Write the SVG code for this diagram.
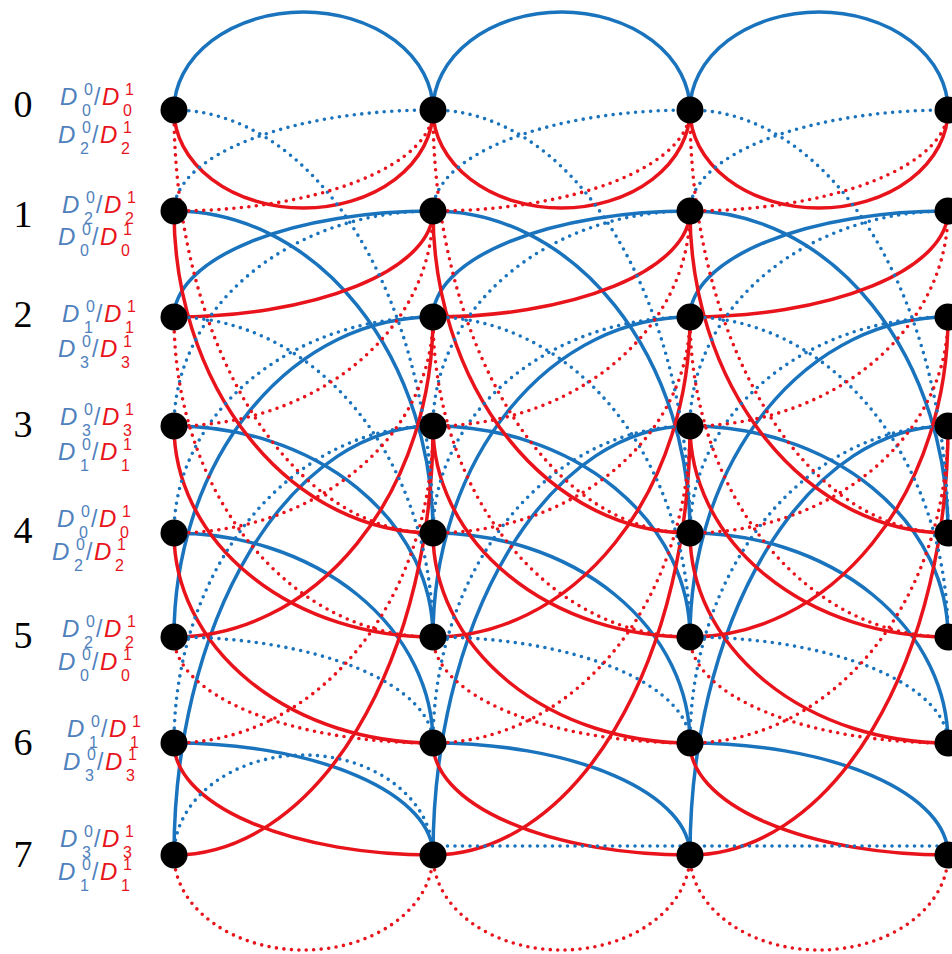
<svg xmlns="http://www.w3.org/2000/svg" width="952" height="954" viewBox="0 0 952 954">
<style>
.sb{fill:none;stroke:#1a73bd;stroke-width:3.5}
.sr{fill:none;stroke:#e8131b;stroke-width:3.5}
.db{fill:none;stroke:#1a73bd;stroke-width:3.6;stroke-dasharray:0 7.5;stroke-linecap:round}
.dr{fill:none;stroke:#e8131b;stroke-width:3.6;stroke-dasharray:0 7.5;stroke-linecap:round}
.nd{fill:#000}
.num{font-family:"Liberation Serif","Times New Roman",serif;font-size:38px;fill:#000;text-anchor:middle}
.lab{font-family:"Liberation Sans",Arial,sans-serif}
.D{font-size:24px;font-style:italic}
.s{font-size:16px}
.sl{font-size:23px}
.b{fill:#4f81bd}
.r{fill:#e8141c}
</style>
<rect width="952" height="954" fill="#fff"/>
<g id="connectors">
<g id="stage-0">
<path class="sb" d="M174 110A129.5 98 0 0 1 433 110M174 211A259 322 0 0 1 433 533M174 317A259 106 0 0 1 433 211M174 426A259 211 0 0 1 433 637M174 533A259 210 0 0 1 433 743M174 637A259 320 0 0 1 433 317M174 743A259 112 0 0 1 433 855M174 855A259 429 0 0 1 433 426"/>
<path class="sr" d="M174 110A129.5 98 0 0 0 433 110M174 211A259 322 0 0 0 433 533M174 317A259 106 0 0 0 433 211M174 426A259 211 0 0 0 433 637M174 533A259 210 0 0 0 433 743M174 637A259 320 0 0 0 433 317M174 743A259 112 0 0 0 433 855M174 855A259 429 0 0 0 433 426"/>
<path class="db" d="M174 110A259 423 0 0 1 433 533M174 211A259 101 0 0 1 433 110M174 317A259 320 0 0 1 433 637M174 426A259 215 0 0 1 433 211M174 533A259 216 0 0 1 433 317M174 637A259 106 0 0 1 433 743M174 743A259 317 0 0 1 433 426M174 855A129.5 100 0 0 1 433 855"/>
<path class="dr" d="M174 110A259 423 0 0 0 433 533M174 211A259 101 0 0 0 433 110M174 317A259 320 0 0 0 433 637M174 426A259 215 0 0 0 433 211M174 533A259 216 0 0 0 433 317M174 637A259 106 0 0 0 433 743M174 743A259 317 0 0 0 433 426M174 855A129.5 95 0 0 0 433 855"/>
</g>
<g id="stage-1">
<path class="sb" d="M433 110A128.5 98 0 0 1 690 110M433 211A257 322 0 0 1 690 533M433 317A257 106 0 0 1 690 211M433 426A257 211 0 0 1 690 637M433 533A257 210 0 0 1 690 743M433 637A257 320 0 0 1 690 317M433 743A257 112 0 0 1 690 855M433 855A257 429 0 0 1 690 426"/>
<path class="sr" d="M433 110A128.5 98 0 0 0 690 110M433 211A257 322 0 0 0 690 533M433 317A257 106 0 0 0 690 211M433 426A257 211 0 0 0 690 637M433 533A257 210 0 0 0 690 743M433 637A257 320 0 0 0 690 317M433 743A257 112 0 0 0 690 855M433 855A257 429 0 0 0 690 426"/>
<path class="db" d="M433 110A257 423 0 0 1 690 533M433 211A257 101 0 0 1 690 110M433 317A257 320 0 0 1 690 637M433 426A257 215 0 0 1 690 211M433 533A257 216 0 0 1 690 317M433 637A257 106 0 0 1 690 743M433 743A257 317 0 0 1 690 426M440 846H684"/>
<path class="dr" d="M433 110A257 423 0 0 0 690 533M433 211A257 101 0 0 0 690 110M433 317A257 320 0 0 0 690 637M433 426A257 215 0 0 0 690 211M433 533A257 216 0 0 0 690 317M433 637A257 106 0 0 0 690 743M433 743A257 317 0 0 0 690 426M433 855A128.5 95 0 0 0 690 855"/>
</g>
<g id="stage-2">
<path class="sb" d="M690 110A129 98 0 0 1 948 110M690 211A258 322 0 0 1 948 533M690 317A258 106 0 0 1 948 211M690 426A258 211 0 0 1 948 637M690 533A258 210 0 0 1 948 743M690 637A258 320 0 0 1 948 317M690 743A258 112 0 0 1 948 855M690 855A258 429 0 0 1 948 426"/>
<path class="sr" d="M690 110A129 98 0 0 0 948 110M690 211A258 322 0 0 0 948 533M690 317A258 106 0 0 0 948 211M690 426A258 211 0 0 0 948 637M690 533A258 210 0 0 0 948 743M690 637A258 320 0 0 0 948 317M690 743A258 112 0 0 0 948 855M690 855A258 429 0 0 0 948 426"/>
<path class="db" d="M690 110A258 423 0 0 1 948 533M690 211A258 101 0 0 1 948 110M690 317A258 320 0 0 1 948 637M690 426A258 215 0 0 1 948 211M690 533A258 216 0 0 1 948 317M690 637A258 106 0 0 1 948 743M690 743A258 317 0 0 1 948 426M697 846H942"/>
<path class="dr" d="M690 110A258 423 0 0 0 948 533M690 211A258 101 0 0 0 948 110M690 317A258 320 0 0 0 948 637M690 426A258 215 0 0 0 948 211M690 533A258 216 0 0 0 948 317M690 637A258 106 0 0 0 948 743M690 743A258 317 0 0 0 948 426M690 855A129 95 0 0 0 948 855"/>
</g>
</g>
<g id="nodes">
<g id="n-c0-r0"><circle class="nd" cx="174" cy="110" r="13.5"/></g>
<g id="n-c0-r1"><circle class="nd" cx="174" cy="211" r="13.5"/></g>
<g id="n-c0-r2"><circle class="nd" cx="174" cy="317" r="13.5"/></g>
<g id="n-c0-r3"><circle class="nd" cx="174" cy="426" r="13.5"/></g>
<g id="n-c0-r4"><circle class="nd" cx="174" cy="533" r="13.5"/></g>
<g id="n-c0-r5"><circle class="nd" cx="174" cy="637" r="13.5"/></g>
<g id="n-c0-r6"><circle class="nd" cx="174" cy="743" r="13.5"/></g>
<g id="n-c0-r7"><circle class="nd" cx="174" cy="855" r="13.5"/></g>
<g id="n-c1-r0"><circle class="nd" cx="433" cy="110" r="13.5"/></g>
<g id="n-c1-r1"><circle class="nd" cx="433" cy="211" r="13.5"/></g>
<g id="n-c1-r2"><circle class="nd" cx="433" cy="317" r="13.5"/></g>
<g id="n-c1-r3"><circle class="nd" cx="433" cy="426" r="13.5"/></g>
<g id="n-c1-r4"><circle class="nd" cx="433" cy="533" r="13.5"/></g>
<g id="n-c1-r5"><circle class="nd" cx="433" cy="637" r="13.5"/></g>
<g id="n-c1-r6"><circle class="nd" cx="433" cy="743" r="13.5"/></g>
<g id="n-c1-r7"><circle class="nd" cx="433" cy="855" r="13.5"/></g>
<g id="n-c2-r0"><circle class="nd" cx="690" cy="110" r="13.5"/></g>
<g id="n-c2-r1"><circle class="nd" cx="690" cy="211" r="13.5"/></g>
<g id="n-c2-r2"><circle class="nd" cx="690" cy="317" r="13.5"/></g>
<g id="n-c2-r3"><circle class="nd" cx="690" cy="426" r="13.5"/></g>
<g id="n-c2-r4"><circle class="nd" cx="690" cy="533" r="13.5"/></g>
<g id="n-c2-r5"><circle class="nd" cx="690" cy="637" r="13.5"/></g>
<g id="n-c2-r6"><circle class="nd" cx="690" cy="743" r="13.5"/></g>
<g id="n-c2-r7"><circle class="nd" cx="690" cy="855" r="13.5"/></g>
<g id="n-c3-r0"><circle class="nd" cx="948" cy="110" r="13.5"/></g>
<g id="n-c3-r1"><circle class="nd" cx="948" cy="211" r="13.5"/></g>
<g id="n-c3-r2"><circle class="nd" cx="948" cy="317" r="13.5"/></g>
<g id="n-c3-r3"><circle class="nd" cx="948" cy="426" r="13.5"/></g>
<g id="n-c3-r4"><circle class="nd" cx="948" cy="533" r="13.5"/></g>
<g id="n-c3-r5"><circle class="nd" cx="948" cy="637" r="13.5"/></g>
<g id="n-c3-r6"><circle class="nd" cx="948" cy="743" r="13.5"/></g>
<g id="n-c3-r7"><circle class="nd" cx="948" cy="855" r="13.5"/></g>
</g>
<g id="labels">
<g id="label-r0"><text class="num" x="23" y="117">0</text>
<text class="lab"><tspan class="D b" x="60" y="105">D</tspan><tspan class="s b" x="84" y="95">0</tspan><tspan class="s b" x="82" y="116">0</tspan><tspan class="sl b" x="94" y="105">/</tspan><tspan class="D r" x="102" y="105">D</tspan><tspan class="s r" x="125" y="95">1</tspan><tspan class="s r" x="123" y="116">0</tspan></text>
<text class="lab"><tspan class="D b" x="58" y="143">D</tspan><tspan class="s b" x="82" y="133">0</tspan><tspan class="s b" x="80" y="154">2</tspan><tspan class="sl b" x="92" y="143">/</tspan><tspan class="D r" x="100" y="143">D</tspan><tspan class="s r" x="123" y="133">1</tspan><tspan class="s r" x="121" y="154">2</tspan></text></g>
<g id="label-r1"><text class="num" x="23" y="227">1</text>
<text class="lab"><tspan class="D b" x="62" y="213">D</tspan><tspan class="s b" x="86" y="203">0</tspan><tspan class="s b" x="84" y="224">2</tspan><tspan class="sl b" x="96" y="213">/</tspan><tspan class="D r" x="104" y="213">D</tspan><tspan class="s r" x="127" y="203">1</tspan><tspan class="s r" x="125" y="224">2</tspan></text>
<text class="lab"><tspan class="D b" x="58" y="245">D</tspan><tspan class="s b" x="82" y="235">0</tspan><tspan class="s b" x="80" y="256">0</tspan><tspan class="sl b" x="92" y="245">/</tspan><tspan class="D r" x="100" y="245">D</tspan><tspan class="s r" x="123" y="235">1</tspan><tspan class="s r" x="121" y="256">0</tspan></text></g>
<g id="label-r2"><text class="num" x="23" y="327">2</text>
<text class="lab"><tspan class="D b" x="62" y="322">D</tspan><tspan class="s b" x="86" y="312">0</tspan><tspan class="s b" x="84" y="333">1</tspan><tspan class="sl b" x="96" y="322">/</tspan><tspan class="D r" x="104" y="322">D</tspan><tspan class="s r" x="127" y="312">1</tspan><tspan class="s r" x="125" y="333">1</tspan></text>
<text class="lab"><tspan class="D b" x="58" y="357">D</tspan><tspan class="s b" x="82" y="347">0</tspan><tspan class="s b" x="80" y="368">3</tspan><tspan class="sl b" x="92" y="357">/</tspan><tspan class="D r" x="100" y="357">D</tspan><tspan class="s r" x="123" y="347">1</tspan><tspan class="s r" x="121" y="368">3</tspan></text></g>
<g id="label-r3"><text class="num" x="23" y="437">3</text>
<text class="lab"><tspan class="D b" x="60" y="425">D</tspan><tspan class="s b" x="84" y="415">0</tspan><tspan class="s b" x="82" y="436">3</tspan><tspan class="sl b" x="94" y="425">/</tspan><tspan class="D r" x="102" y="425">D</tspan><tspan class="s r" x="125" y="415">1</tspan><tspan class="s r" x="123" y="436">3</tspan></text>
<text class="lab"><tspan class="D b" x="58" y="460">D</tspan><tspan class="s b" x="82" y="450">0</tspan><tspan class="s b" x="80" y="471">1</tspan><tspan class="sl b" x="92" y="460">/</tspan><tspan class="D r" x="100" y="460">D</tspan><tspan class="s r" x="123" y="450">1</tspan><tspan class="s r" x="121" y="471">1</tspan></text></g>
<g id="label-r4"><text class="num" x="23" y="543">4</text>
<text class="lab"><tspan class="D b" x="57" y="527">D</tspan><tspan class="s b" x="81" y="517">0</tspan><tspan class="s b" x="79" y="538">0</tspan><tspan class="sl b" x="91" y="527">/</tspan><tspan class="D r" x="99" y="527">D</tspan><tspan class="s r" x="122" y="517">1</tspan><tspan class="s r" x="120" y="538">0</tspan></text>
<text class="lab"><tspan class="D b" x="52" y="560">D</tspan><tspan class="s b" x="76" y="550">0</tspan><tspan class="s b" x="74" y="571">2</tspan><tspan class="sl b" x="86" y="560">/</tspan><tspan class="D r" x="94" y="560">D</tspan><tspan class="s r" x="117" y="550">1</tspan><tspan class="s r" x="115" y="571">2</tspan></text></g>
<g id="label-r5"><text class="num" x="23" y="648">5</text>
<text class="lab"><tspan class="D b" x="62" y="637">D</tspan><tspan class="s b" x="86" y="627">0</tspan><tspan class="s b" x="84" y="648">2</tspan><tspan class="sl b" x="96" y="637">/</tspan><tspan class="D r" x="104" y="637">D</tspan><tspan class="s r" x="127" y="627">1</tspan><tspan class="s r" x="125" y="648">2</tspan></text>
<text class="lab"><tspan class="D b" x="58" y="670">D</tspan><tspan class="s b" x="82" y="660">0</tspan><tspan class="s b" x="80" y="681">0</tspan><tspan class="sl b" x="92" y="670">/</tspan><tspan class="D r" x="100" y="670">D</tspan><tspan class="s r" x="123" y="660">1</tspan><tspan class="s r" x="121" y="681">0</tspan></text></g>
<g id="label-r6"><text class="num" x="23" y="755">6</text>
<text class="lab"><tspan class="D b" x="67" y="737">D</tspan><tspan class="s b" x="91" y="727">0</tspan><tspan class="s b" x="89" y="748">1</tspan><tspan class="sl b" x="101" y="737">/</tspan><tspan class="D r" x="109" y="737">D</tspan><tspan class="s r" x="132" y="727">1</tspan><tspan class="s r" x="130" y="748">1</tspan></text>
<text class="lab"><tspan class="D b" x="63" y="770">D</tspan><tspan class="s b" x="87" y="760">0</tspan><tspan class="s b" x="85" y="781">3</tspan><tspan class="sl b" x="97" y="770">/</tspan><tspan class="D r" x="105" y="770">D</tspan><tspan class="s r" x="128" y="760">1</tspan><tspan class="s r" x="126" y="781">3</tspan></text></g>
<g id="label-r7"><text class="num" x="23" y="867">7</text>
<text class="lab"><tspan class="D b" x="60" y="847">D</tspan><tspan class="s b" x="84" y="837">0</tspan><tspan class="s b" x="82" y="858">3</tspan><tspan class="sl b" x="94" y="847">/</tspan><tspan class="D r" x="102" y="847">D</tspan><tspan class="s r" x="125" y="837">1</tspan><tspan class="s r" x="123" y="858">3</tspan></text>
<text class="lab"><tspan class="D b" x="58" y="880">D</tspan><tspan class="s b" x="82" y="870">0</tspan><tspan class="s b" x="80" y="891">1</tspan><tspan class="sl b" x="92" y="880">/</tspan><tspan class="D r" x="100" y="880">D</tspan><tspan class="s r" x="123" y="870">1</tspan><tspan class="s r" x="121" y="891">1</tspan></text></g>
</g>
</svg>
